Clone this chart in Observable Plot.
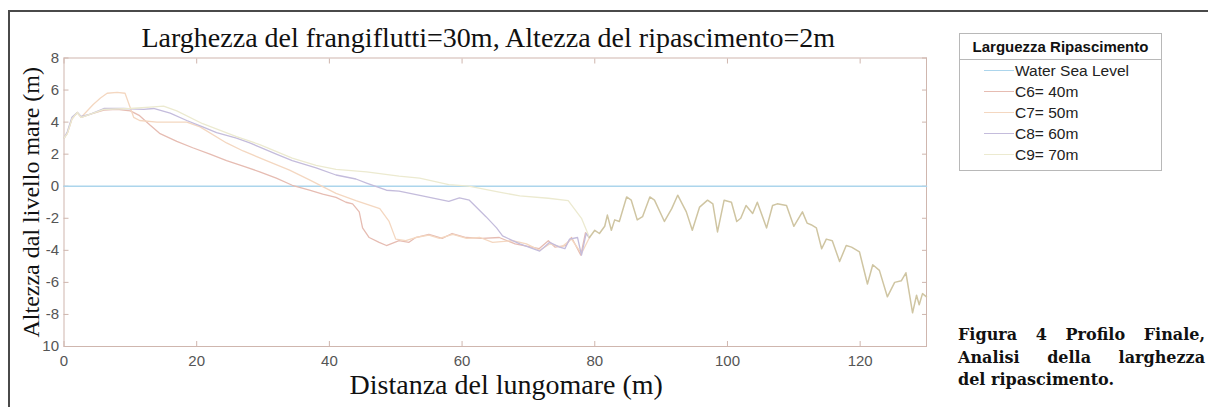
<!DOCTYPE html>
<html>
<head>
<meta charset="utf-8">
<script src="https://cdn.jsdelivr.net/npm/d3@7"></script>
<script src="https://cdn.jsdelivr.net/npm/@observablehq/plot@0.6"></script>
<style>
  html, body { margin: 0; padding: 0; background: #fff; }
  #page { position: relative; width: 1208px; height: 407px; overflow: hidden; background: #fff; }
  #frameTop { position: absolute; left: 9px; top: 10px; width: 1199px; height: 2px; background: #4a4a4a; }
  #frameLeft { position: absolute; left: 8px; top: 10px; width: 2px; height: 397px; background: #4a4a4a; }
  #chart { position: absolute; left: 0; top: 0; }
  #legend { position: absolute; left: 959px; top: 33px; width: 203px; height: 138px; border: 1px solid #b8b8b8; box-sizing: border-box; font-family: "Liberation Sans", Arial, sans-serif; background: #fff; }
  #legend .ttl { font-weight: bold; font-size: 15px; text-align: center; height: 25px; line-height: 25px; border-bottom: 1px solid #b8b8b8; color: #111; }
  #legend .row { position: relative; height: 21px; line-height: 21px; font-size: 15.5px; color: #222; }
  #legend .row .sw { position: absolute; left: 24px; top: 10px; width: 30px; height: 0; border-top: 1.5px solid; }
  #legend .row .lb { position: absolute; left: 55px; top: 0; white-space: nowrap; }
  #caption { position: absolute; left: 958px; top: 324px; width: 247px; font-family: "DejaVu Serif", "Liberation Serif", serif; font-weight: bold; font-size: 16px; line-height: 22.5px; color: #111; }
  #caption .j { text-align: justify; text-align-last: justify; }
</style>
</head>
<body>
<div id="page">
  <div id="frameTop"></div>
  <div id="frameLeft"></div>
  <div id="chart"></div>
  <div id="legend"></div>
  <div id="caption"></div>
</div>
<script>
// ---------- text ----------
const chartTitle = "Larghezza del frangiflutti=30m, Altezza del ripascimento=2m";
const xAxisTitle = "Distanza del lungomare (m)";
const yAxisTitle = "Altezza dal livello mare (m)";
const legendTitle = "Larguezza Ripascimento";
const captionLines = ["Figura 4 Profilo Finale,", "Analisi della larghezza", "del ripascimento."];

// ---------- ticks ----------
const xTickValues = [0, 20, 40, 60, 80, 100, 120];
const xTickLabels = ["0", "20", "40", "60", "80", "100", "120"];
const yTickValues = [-10, -8, -6, -4, -2, 0, 2, 4, 6, 8];
const yTickLabels = ["10", "-8", "-6", "-4", "-2", "0", "2", "4", "6", "8"];

// ---------- series ----------
const seriesNames = ["Water Sea Level", "C6= 40m", "C7= 50m", "C8= 60m", "C9= 70m"];

const seaX = [0, 130];
const seaY = [0, 0];

const c6X = [0,0.5,1.2,2,2.6,4,6,8,10,11.4,13,14.4,17,19.4,22,24.5,27,29.5,32,34.4,37,39,41,42.5,43.5,44.5,45,46,47.5,48.6,50.5,52,53,55,57,58.5,60.6,63,65.6,68,71.6,73,74,75.6,76.5,77.9,78.6,79.2];
const c6Y = [3.0,3.3,4.2,4.6,4.3,4.5,4.75,4.8,4.7,4.4,3.8,3.3,2.8,2.4,2.0,1.6,1.25,0.9,0.5,0.06,-0.25,-0.5,-0.7,-1.0,-1.1,-1.6,-2.6,-3.2,-3.5,-3.7,-3.4,-3.5,-3.2,-3.0,-3.25,-2.95,-3.2,-3.25,-3.2,-3.6,-3.9,-3.4,-3.8,-3.7,-3.2,-4.3,-2.9,-3.2];

const c7X = [0,0.5,1.2,2,2.6,4.4,5.5,6.5,8,9.2,10.5,11.4,14,18.5,20.5,24.5,27,30.5,34,37,41,44,47.6,49,50,51.5,53,55,56.6,58.6,60.7,62.7,64.6,67.6,69.7,71.7,73.2,75,76.5,78,79.2];
const c7Y = [3.0,3.3,4.2,4.6,4.3,5.1,5.5,5.8,5.85,5.8,4.3,4.1,4.0,4.0,3.7,2.7,2.2,1.6,1.0,0.4,-0.45,-0.9,-1.4,-2.2,-3.3,-3.4,-3.2,-3.05,-3.25,-3.0,-3.25,-3.2,-3.5,-3.4,-3.6,-4.0,-3.6,-3.8,-3.3,-4.2,-3.2];

const c8X = [0,0.5,1.2,2,2.6,4,6,9,12,13.5,16,18.5,20.9,23,26,28,29.5,32,34.4,38,41,44,45.6,48.6,50.5,54,58,59.6,61.1,63.6,65.2,66.1,68.7,71.7,73.2,74.7,75.5,76.2,77.4,78,78.7,79.2];
const c8Y = [3.0,3.4,4.3,4.6,4.35,4.5,4.85,4.85,4.8,4.85,4.56,4.1,3.7,3.35,3.0,2.7,2.44,2.0,1.6,1.15,0.7,0.45,0.2,-0.25,-0.3,-0.6,-0.95,-0.73,-0.87,-1.9,-2.6,-3.1,-3.6,-4.05,-3.5,-3.8,-3.9,-3.3,-3.2,-4.3,-2.95,-3.2];

const c9X = [0,0.5,1.2,2,2.6,4,6,10,13.5,15,17,20.9,26,29.5,34.4,38,41,45.6,50.5,53.6,58,61,65.6,68.7,73,76,78,79.2];
const c9Y = [3.0,3.3,4.2,4.6,4.3,4.5,4.8,4.85,4.95,5.0,4.7,3.9,3.1,2.6,1.75,1.3,1.05,0.9,0.63,0.5,0.1,0.0,-0.37,-0.6,-0.75,-0.9,-2.0,-3.2];

// shared offshore profile (all cases coincide beyond ~79 m)
const offX = [79.2,80,80.7,81.5,81.9,82.5,83,83.7,84.8,85.5,86.4,87.2,88.3,89,90.5,91.6,92.5,93.8,94.7,95.8,97,97.8,98.5,99.5,100.6,101.4,102,102.8,103.8,104.5,105.9,106.8,107.5,108.9,110,111.3,112,112.6,113.4,114.2,114.9,115.8,116.9,117.9,118.7,119.9,121.1,121.9,122.9,124.1,125.2,126.2,126.9,127.9,128.5,128.9,129.4,130];
const offY = [-3.2,-2.75,-2.95,-2.5,-1.8,-2.75,-2.1,-2.2,-0.67,-0.87,-2.1,-1.9,-0.67,-0.87,-2.2,-1.4,-0.56,-1.6,-2.75,-1.3,-0.87,-1.1,-2.85,-0.87,-1.0,-2.2,-2.0,-1.2,-1.7,-1.0,-2.6,-1.2,-1.1,-1.2,-2.5,-1.6,-2.3,-2.4,-2.6,-3.9,-3.3,-3.4,-4.7,-3.7,-3.8,-4.1,-6.1,-4.9,-5.25,-6.9,-6.0,-5.9,-5.4,-7.9,-6.8,-7.4,-6.7,-6.9];

// ---------- styles ----------
const seriesColors = ["#acd5ec", "#e6bcb2", "#f4d7c0", "#c4bcdc", "#ecead0"];
const offshoreColor = "#cfc5a2";

// ---------- build rows ----------
function rows(xs, ys, name) { return xs.map((x, i) => ({x, y: ys[i], name})); }
const lineData = [
  ...rows(c6X, c6Y, seriesNames[1]),
  ...rows(c7X, c7Y, seriesNames[2]),
  ...rows(c8X, c8Y, seriesNames[3]),
  ...rows(c9X, c9Y, seriesNames[4])
];
const seaData = rows(seaX, seaY, seriesNames[0]);
const offData = rows(offX, offY, "offshore");

const xLab = d => xTickLabels[xTickValues.indexOf(d)];
const yLab = d => yTickLabels[yTickValues.indexOf(d)];
const axisColor = "#cfb6ae";
const serif = "Liberation Serif, Times New Roman, serif";

const plot = Plot.plot({
  width: 945,
  height: 407,
  marginLeft: 63.5,
  marginRight: 19,
  marginTop: 57.5,
  marginBottom: 61,
  style: {fontFamily: "Liberation Sans, Arial, sans-serif", background: "transparent"},
  x: {domain: [0, 130]},
  y: {domain: [-10, 8]},
  color: {domain: seriesNames, range: seriesColors},
  marks: [
    Plot.frame({stroke: axisColor}),
    // inward ticks on all four sides
    Plot.axisX(xTickValues, {anchor: "bottom", tickSize: -5, tickFormat: () => "", color: axisColor, label: null}),
    Plot.axisX(xTickValues, {anchor: "top", tickSize: -5, tickFormat: () => "", color: axisColor, label: null}),
    Plot.axisY(yTickValues, {anchor: "left", tickSize: -5, tickFormat: () => "", color: axisColor, label: null}),
    Plot.axisY(yTickValues, {anchor: "right", tickSize: -5, tickFormat: () => "", color: axisColor, label: null}),
    // tick labels
    Plot.axisX(xTickValues, {anchor: "bottom", tickSize: 0, tickPadding: 9, tickFormat: xLab, color: "#555", fontSize: 15, label: null}),
    Plot.axisY(yTickValues, {anchor: "left", tickSize: 0, tickPadding: 5, tickFormat: yLab, color: "#555", fontSize: 15, label: null}),
    // series
    Plot.line(seaData, {x: "x", y: "y", stroke: "name", strokeWidth: 1.6}),
    Plot.line(lineData, {x: "x", y: "y", z: "name", stroke: "name", strokeWidth: 1.3}),
    Plot.line(offData, {x: "x", y: "y", stroke: offshoreColor, strokeWidth: 1.5}),
    // titles
    Plot.text([chartTitle], {frameAnchor: "top", dx: -7, dy: -20, fontSize: 28, fontFamily: serif, fill: "#111", lineAnchor: "middle"}),
    Plot.text([xAxisTitle], {frameAnchor: "bottom", dx: 11, dy: 39, fontSize: 28, fontFamily: serif, fill: "#111", lineAnchor: "middle"}),
    Plot.text([yAxisTitle], {frameAnchor: "left", dx: -33, rotate: -90, textAnchor: "middle", fontSize: 24, fontFamily: serif, fill: "#111", lineAnchor: "middle"})
  ]
});
document.getElementById("chart").appendChild(plot);

// ---------- legend ----------
const legend = document.getElementById("legend");
const t = document.createElement("div");
t.className = "ttl"; t.textContent = legendTitle;
legend.appendChild(t);
seriesNames.forEach((name, i) => {
  const r = document.createElement("div"); r.className = "row";
  const sw = document.createElement("span"); sw.className = "sw"; sw.style.borderTopColor = seriesColors[i];
  const lb = document.createElement("span"); lb.className = "lb"; lb.textContent = name;
  r.appendChild(sw); r.appendChild(lb); legend.appendChild(r);
});

// ---------- caption ----------
const cap = document.getElementById("caption");
captionLines.forEach((line, i) => {
  const d = document.createElement("div");
  if (i < captionLines.length - 1) d.className = "j";
  d.textContent = line;
  cap.appendChild(d);
});
</script>
</body>
</html>
